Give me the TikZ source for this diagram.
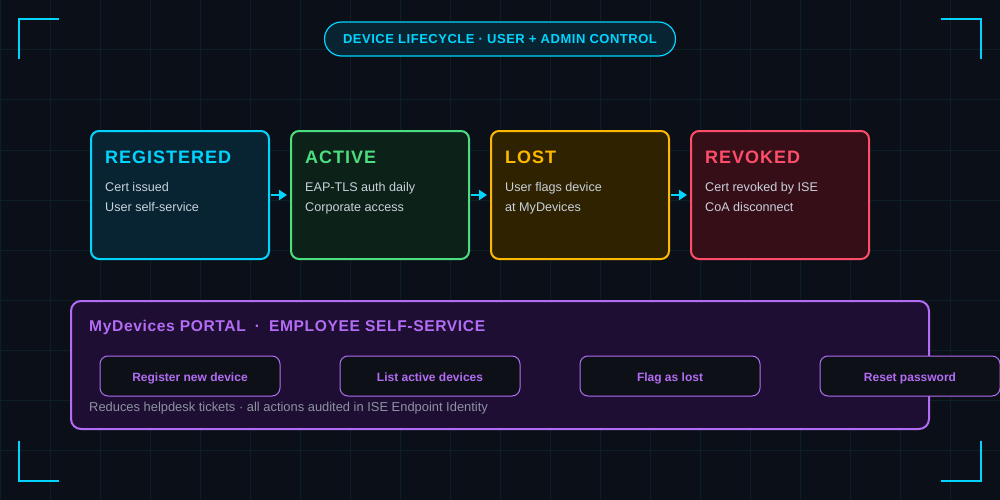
\documentclass[tikz,border=0pt]{standalone}
\usepackage{fontspec}
\setmainfont{Liberation Sans}
\newfontfamily\bfsp[LetterSpace=5.5]{Liberation Sans Bold}
\newfontfamily\bfspb[LetterSpace=4]{Liberation Sans Bold}
\newfontfamily\bfplain{Liberation Sans Bold}
\usetikzlibrary{arrows.meta}
\definecolor{bgc}{HTML}{0B0F17}
\definecolor{gridc}{HTML}{0D1F26}
\definecolor{cyanc}{HTML}{00D4FF}
\definecolor{regfill}{HTML}{082433}
\definecolor{greenc}{HTML}{4ADE80}
\definecolor{actfill}{HTML}{0C2118}
\definecolor{amberc}{HTML}{FFB800}
\definecolor{lostfill}{HTML}{2E2200}
\definecolor{redc}{HTML}{FF4D6A}
\definecolor{revfill}{HTML}{360E18}
\definecolor{purplec}{HTML}{B36CF5}
\definecolor{portfill}{HTML}{1F0E33}
\definecolor{bodyc}{HTML}{C9D1DC}
\definecolor{footc}{HTML}{8B93A1}
\definecolor{btnfill}{HTML}{0D1117}
\definecolor{pillfill}{HTML}{082433}
\tikzset{
  stagebox/.style={draw=#1, line width=2pt, rounded corners=8pt, minimum width=178pt, minimum height=128pt, inner sep=0pt},
  stagetitle/.style={anchor=base west, inner sep=0pt, text=#1, font=\bfsp\fontsize{18}{18}\selectfont},
  bodytext/.style={anchor=base west, inner sep=0pt, text=bodyc, font=\fontsize{12.6}{13}\selectfont},
  flowarrow/.style={draw=cyanc, line width=2pt, -{Triangle[length=8pt,width=10pt]}, shorten >=3pt, shorten <=1pt},
  btn/.style={draw=purplec, fill=btnfill, line width=1pt, rounded corners=8pt, minimum width=180pt, minimum height=40pt, inner sep=0pt, text height=10pt, text depth=0pt, text=purplec, font=\bfplain\fontsize{12}{12}\selectfont},
  bracket/.style={draw=cyanc, line width=2.5pt}
}
\begin{document}
\begin{tikzpicture}[x=1pt,y=-1pt]
\useasboundingbox (0,0) rectangle (1000,500);
\clip (0,0) rectangle (1000,500);
\fill[bgc] (0,0) rectangle (1000,500);
% grid
\foreach \gx in {0,50,...,1000} {\draw[gridc, line width=1pt] (\gx,0) -- (\gx,500);}
\foreach \gy in {0,50,...,500} {\draw[gridc, line width=1pt] (0,\gy) -- (1000,\gy);}
% corner brackets
\coordinate (tl1) at (19,59); \coordinate (tl2) at (19,19); \coordinate (tl3) at (59,19);
\coordinate (tr1) at (941,19); \coordinate (tr2) at (981,19); \coordinate (tr3) at (981,59);
\coordinate (bl1) at (19,441); \coordinate (bl2) at (19,481); \coordinate (bl3) at (59,481);
\coordinate (br1) at (941,481); \coordinate (br2) at (981,481); \coordinate (br3) at (981,441);
\draw[bracket] (tl1) -- (tl2) -- (tl3);
\draw[bracket] (tr1) -- (tr2) -- (tr3);
\draw[bracket] (bl1) -- (bl2) -- (bl3);
\draw[bracket] (br1) -- (br2) -- (br3);
% title pill
\node[draw=cyanc, fill=pillfill, line width=1.2pt, rounded corners=17pt, minimum width=351pt, minimum height=34pt, inner sep=0pt, text=cyanc, font=\bfspb\fontsize{13}{13}\selectfont] (pill) at (500,39) {DEVICE LIFECYCLE · USER + ADMIN CONTROL};
% stage boxes
\node[stagebox=cyanc, fill=regfill] (reg) at (180,195) {};
\node[stagebox=greenc, fill=actfill] (act) at (380,195) {};
\node[stagebox=amberc, fill=lostfill] (lost) at (580,195) {};
\node[stagebox=redc, fill=revfill] (rev) at (780,195) {};
\node[stagetitle=cyanc] (regt) at (105,163) {REGISTERED};
\node[bodytext] (regb1) at (105,191) {Cert issued};
\node[bodytext] (regb2) at (105,211) {User self-service};
\node[stagetitle=greenc] (actt) at (305,163) {ACTIVE};
\node[bodytext] (actb1) at (305,191) {EAP-TLS auth daily};
\node[bodytext] (actb2) at (305,211) {Corporate access};
\node[stagetitle=amberc] (lostt) at (505,163) {LOST};
\node[bodytext] (lostb1) at (505,191) {User flags device};
\node[bodytext] (lostb2) at (505,211) {at MyDevices};
\node[stagetitle=redc] (revt) at (705,163) {REVOKED};
\node[bodytext] (revb1) at (705,191) {Cert revoked by ISE};
\node[bodytext] (revb2) at (705,211) {CoA disconnect};
% arrows
\draw[flowarrow] (reg.east) -- (act.west);
\draw[flowarrow] (act.east) -- (lost.west);
\draw[flowarrow] (lost.east) -- (rev.west);
% portal
\node[draw=purplec, fill=portfill, line width=2pt, rounded corners=10pt, minimum width=858pt, minimum height=128pt, inner sep=0pt] (portal) at (500,365) {};
\node[anchor=base west, inner sep=0pt, text=purplec, font=\bfspb\fontsize{15.6}{15.6}\selectfont] (portt) at (89,331) {MyDevices PORTAL\hspace{9pt}·\hspace{9pt}EMPLOYEE SELF-SERVICE};
\node[btn] (b1) at (190,376) {Register new device};
\node[btn] (b2) at (430,376) {List active devices};
\node[btn] (b3) at (670,376) {Flag as lost};
\node[btn] (b4) at (910,376) {Reset password};
\node[anchor=base west, inner sep=0pt, text=footc, font=\fontsize{12.9}{13}\selectfont] (foot) at (89,411) {Reduces helpdesk tickets · all actions audited in ISE Endpoint Identity};
\end{tikzpicture}
\end{document}
